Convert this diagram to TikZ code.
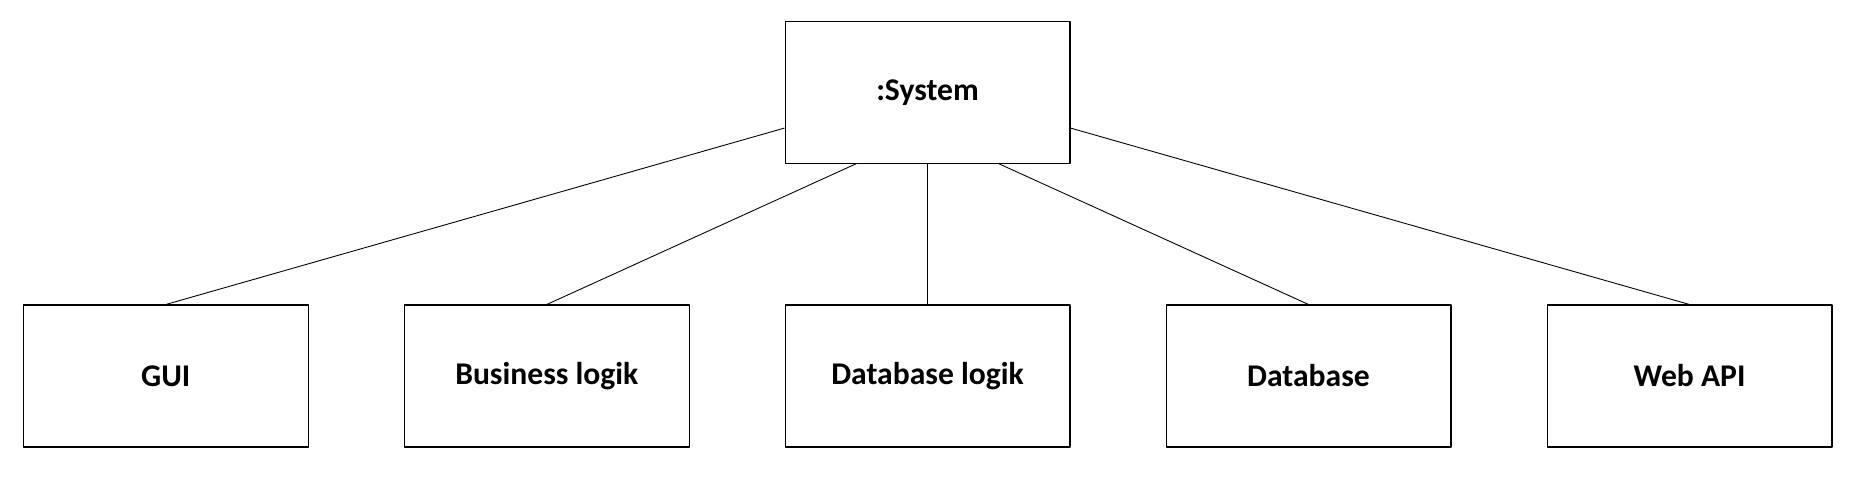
\documentclass[tikz,border=0pt]{standalone}
\usepackage{fontspec}
\setmainfont{Carlito}
\usetikzlibrary{calc}

\begin{document}
\begin{tikzpicture}[x=0.02cm,y=-0.02cm,line join=round,
    modul/.style={draw,line width=0.6pt,minimum width=5.7cm,minimum height=2.84cm,
                  inner sep=0pt,font=\fontsize{18}{21}\selectfont\bfseries},
    forb/.style={line width=0.5pt}]

  \useasboundingbox (0,0) rectangle (1861,479);

  % ======================= systemet oeverst ===================
  \node[modul] (sys) at (927.5, 92.3) {:System};

  % ======================= delsystemer nederst ===================
  \node[modul] (gui) at ( 165.8,376) {GUI};
  \node[modul] (bus) at ( 546.8,376) {Business logik};
  \node[modul] (dbl) at ( 927.5,376) {Database logik};
  \node[modul] (db)  at (1308.5,376) {Database};
  \node[modul] (api) at (1689.5,376) {Web API};

  % forbindelser
  \coordinate (sw) at ($(sys.south west)!0.25!(sys.north west)$);
  \coordinate (se) at ($(sys.south east)!0.25!(sys.north east)$);
  \coordinate (sb1) at ($(sys.south west)!0.25!(sys.south east)$);
  \coordinate (sb3) at ($(sys.south west)!0.75!(sys.south east)$);

  \draw[forb] (sw) -- (gui.north)  (sb1) -- (bus.north)
              (sys.south) -- (dbl.north)
              (sb3) -- (db.north)  (se) -- (api.north);

\end{tikzpicture}
\end{document}
